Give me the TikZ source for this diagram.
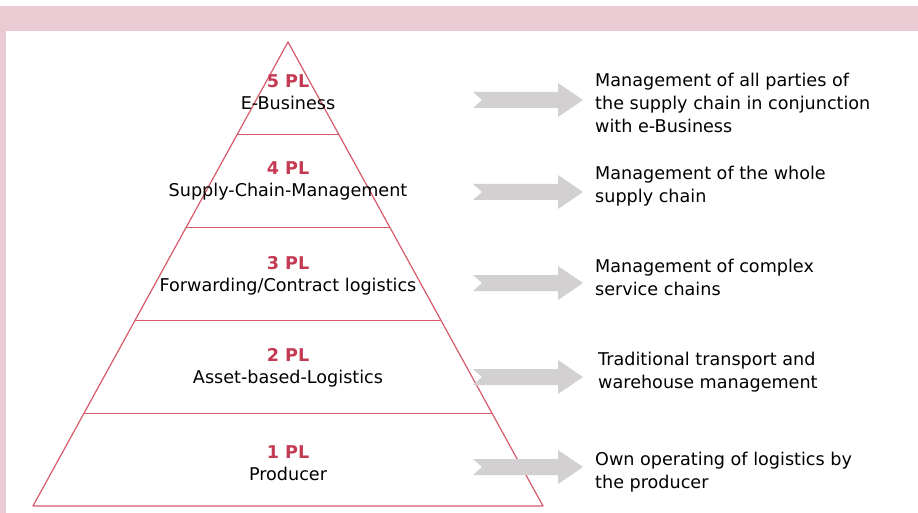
\documentclass[tikz,border=0pt]{standalone}
\usepackage{fontspec}
\setmainfont{DejaVu Sans}
\usetikzlibrary{calc}

\begin{document}
\begin{tikzpicture}[x=1pt, y=-1pt,
  level/.style={align=center, inner sep=0pt, font=\fontsize{17.6}{22.5}\selectfont},
  desc/.style={anchor=west, align=left, inner sep=0pt, font=\fontsize{17.6}{23}\selectfont},
  pics/fatarrow/.style={code={
    \fill[arrowgray] (0,-8) -- (85,-8) -- (85,-17) -- (110,0) -- (85,17) -- (85,8) -- (0,8) -- (9,0) -- cycle;
  }}]

% Define the colors
\definecolor{bandpink}{RGB}{235,203,211}
\definecolor{linered}{RGB}{214,90,106}
\definecolor{textred}{RGB}{196,58,82}
\definecolor{arrowgray}{RGB}{210,208,208}

\useasboundingbox (0,0) rectangle (918,513);

% Draw the frame
\fill[bandpink] (0,6) rectangle (918,31);
\fill[bandpink] (0,31) rectangle (6,513);

% Draw the pyramid
\coordinate (apex) at (288,42);
\coordinate (bl) at (33,506);
\coordinate (br) at (543,506);
\draw[linered, line width=1.2pt, line join=round] (apex) -- (br) -- (bl) -- cycle;
\foreach \i in {1,...,4}
  \draw[linered, line width=1.2pt] ($(apex)!\i/5!(bl)$) -- ($(apex)!\i/5!(br)$);

% Draw the levels
\node[level] (lvl5) at (288,92) {\textcolor{textred}{\bfseries 5 PL}\\E-Business};
\node[level] (lvl4) at (288,181) {\textcolor{textred}{\bfseries 4 PL}\\Supply-Chain-Management};
\node[level] (lvl3) at (288,276) {\textcolor{textred}{\bfseries 3 PL}\\Forwarding/Contract logistics};
\node[level] (lvl2) at (288,368) {\textcolor{textred}{\bfseries 2 PL}\\Asset-based-Logistics};
\node[level] (lvl1) at (288,463) {\textcolor{textred}{\bfseries 1 PL}\\Producer};

% Draw the arrows
\coordinate (arr5) at (473,100);
\coordinate (arr4) at (473,192);
\coordinate (arr3) at (473,283);
\coordinate (arr2) at (473,377);
\coordinate (arr1) at (473,467);
\foreach \a in {arr1,arr2,arr3,arr4,arr5}
  \pic at (\a) {fatarrow};

% Draw the descriptions
\node[desc] (desc5) at (595,103) {Management of all parties of\\the supply chain in conjunction\\with e-Business};
\node[desc] (desc4) at (595,186) {Management of the whole\\supply chain};
\node[desc] (desc3) at (595,277) {Management of complex\\service chains};
\node[desc] (desc2) at (598,372) {Traditional transport and\\warehouse management};
\node[desc] (desc1) at (595,472) {Own operating of logistics by\\the producer};

\end{tikzpicture}
\end{document}
